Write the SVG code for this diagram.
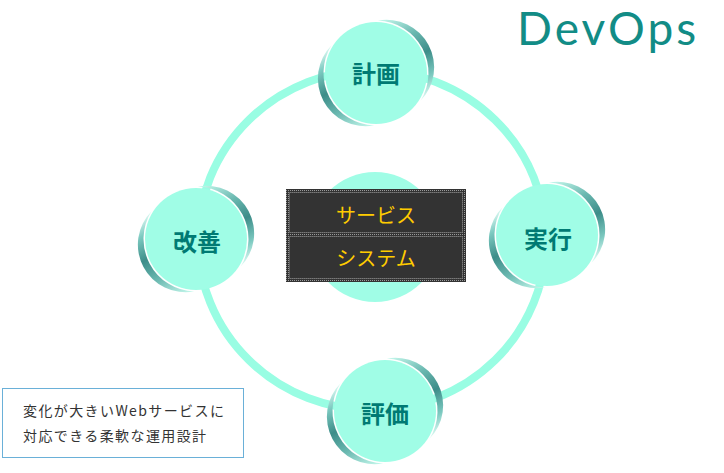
<svg xmlns="http://www.w3.org/2000/svg" width="724" height="473" viewBox="0 0 724 473">
<style>
.ring{fill:none;stroke:#99fde3;stroke-width:8}
.disc{fill:#a0fde6}
.lbl{font-family:"Noto Sans CJK JP","Noto Sans",sans-serif;font-size:24px;font-weight:bold;fill:#007a73;text-anchor:middle;dominant-baseline:central}
.sys{font-family:"Noto Sans CJK JP","Noto Sans",sans-serif;font-size:20px;fill:#ffcc00;text-anchor:middle;dominant-baseline:central}
.note{font-family:"Noto Sans CJK JP","Noto Sans",sans-serif;font-size:14px;fill:#333;letter-spacing:1.4px}
.row{fill:#333;stroke:#8a8a8a;stroke-width:1;stroke-dasharray:1 1}
</style>
<defs>
<linearGradient id="cg" gradientUnits="userSpaceOnUse" x1="2" y1="-52" x2="45" y2="28">
<stop offset="0" stop-color="#c4f8ec"/>
<stop offset="0.3" stop-color="#6ab8b0"/>
<stop offset="0.55" stop-color="#3d8d89"/>
<stop offset="0.8" stop-color="#7cc9c0"/>
<stop offset="1" stop-color="#e0fcf5"/>
</linearGradient>
<pattern id="dots" width="2" height="2" patternUnits="userSpaceOnUse">
<rect width="2" height="2" fill="#333"/>
<rect width="1" height="1" fill="#9a9a9a"/>
</pattern>
<path id="cres" d="M1.83,-52.47 A47.7,47.7 0 0 1 44.52,27.82 A52.5,52.5 0 0 0 1.83,-52.47 Z" fill="url(#cg)"/>
<g id="knob">
<use href="#cres"/>
<use href="#cres" transform="rotate(180)"/>
<circle class="disc" r="51"/>
</g>
</defs>

<g id="connectors">
<ellipse class="ring" cx="372" cy="240" rx="174" ry="170"/>
</g>

<g id="center">
<circle class="disc" cx="375" cy="237" r="65"/>
<rect x="286" y="189" width="180" height="93" fill="url(#dots)"/>
<rect class="row" x="289.5" y="192.5" width="173" height="40"/>
<rect class="row" x="289.5" y="236.5" width="173" height="42"/>
<text class="sys" x="376" y="214">サービス</text>
<text class="sys" x="376" y="257">システム</text>
</g>

<g id="node-plan" transform="translate(376,73)">
<use href="#knob"/>
<text class="lbl" x="0" y="-1">計画</text>
</g>
<g id="node-run" transform="translate(547,235)">
<use href="#knob"/>
<text class="lbl" x="1" y="2">実行</text>
</g>
<g id="node-improve" transform="translate(196,239)">
<use href="#knob"/>
<text class="lbl" x="1" y="1">改善</text>
</g>
<g id="node-eval" transform="translate(385,411)">
<use href="#knob"/>
<text class="lbl" x="0" y="1">評価</text>
</g>

<g id="title">
<text x="517" y="45" font-family="Lato,'Open Sans',sans-serif" font-size="46" letter-spacing="3" fill="#128c86">DevOps</text>
</g>

<g id="note">
<rect x="2.5" y="388.5" width="241" height="69" fill="#fff" stroke="#6ab0d8" stroke-width="1"/>
<text class="note" x="23" y="416">変化が大きいWebサービスに</text>
<text class="note" x="23" y="441">対応できる柔軟な運用設計</text>
</g>
</svg>
